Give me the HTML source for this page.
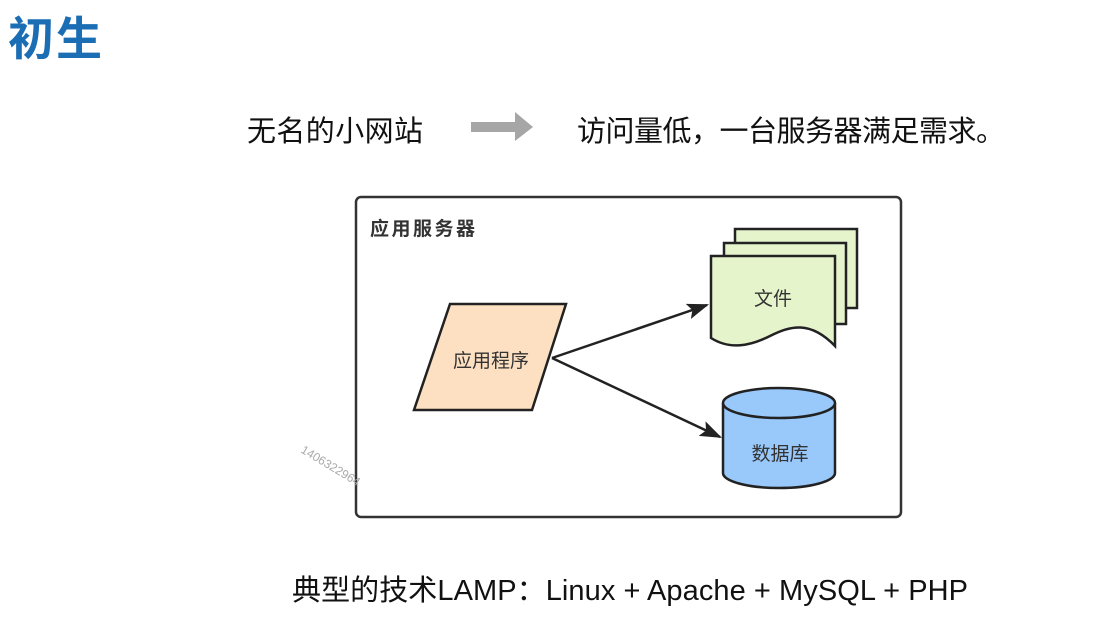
<!DOCTYPE html>
<html><head><meta charset="utf-8"><style>
html,body{margin:0;padding:0;background:#fff;width:1098px;height:632px;overflow:hidden}
text{font-family:"Liberation Sans","Noto Sans CJK SC",sans-serif}
</style></head><body>
<svg width="1098" height="632" viewBox="0 0 1098 632" xmlns="http://www.w3.org/2000/svg">
<defs>
<marker id="a2" viewBox="0 0 10 10" markerWidth="22" markerHeight="16" refX="9" refY="5" orient="auto" markerUnits="userSpaceOnUse" preserveAspectRatio="none"><path d="M0,0 L10,5 L0,10 L2,5 z" fill="#222"/></marker></defs>
<text x="8" y="55" font-size="46" font-weight="bold" fill="#1b6db4" textLength="94" font-family="Noto Sans CJK SC">初生</text>
<text x="247" y="141" font-size="29" fill="#111" textLength="176">无名的小网站</text>
<polygon points="471,122 515,122 515,112 533,127 515,141 515,132 471,132" fill="#a6a6a6"/>
<text x="577" y="141" font-size="29" fill="#111" textLength="428">访问量低，一台服务器满足需求。</text>
<rect x="356" y="197" width="545" height="320" rx="5" fill="#fff" stroke="#333" stroke-width="2.5"/>
<text x="370" y="235" font-size="19" font-weight="bold" fill="#333" textLength="105">应用服务器</text>
<polygon points="450,304 566,304 532,410 414,410" fill="#fde0c2" stroke="#222" stroke-width="2.5"/>
<text x="491" y="367" font-size="19" fill="#333" text-anchor="middle">应用程序</text>
<line x1="552" y1="358" x2="707" y2="305" stroke="#222" stroke-width="2.5" marker-end="url(#a2)"/>
<line x1="552" y1="358" x2="720" y2="437" stroke="#222" stroke-width="2.5" marker-end="url(#a2)"/>
<path d="M735,229 H857 V308 H735 Z" fill="#e6f4cc" stroke="#222" stroke-width="2.5"/>
<path d="M724,243 H846 V324 H724 Z" fill="#e6f4cc" stroke="#222" stroke-width="2.5"/>
<path d="M711,256 H835 V346 C810,320 790,326 770,336 C750,346 730,350 711,338 Z" fill="#e6f4cc" stroke="#222" stroke-width="2.5"/>
<text x="773" y="305" font-size="19" fill="#333" text-anchor="middle">文件</text>
<path d="M723,403 V473 A56,15 0 0 0 835,473 V403" fill="#99c8fb" stroke="#222" stroke-width="2.5"/>
<ellipse cx="779" cy="403" rx="56" ry="15" fill="#99c8fb" stroke="#222" stroke-width="2.5"/>
<text x="780" y="460" font-size="19" fill="#333" text-anchor="middle">数据库</text>
<text x="300" y="452" font-size="12" fill="#aaa" transform="rotate(31 300 452)">1406322964</text>
<text x="292" y="600" font-size="29" fill="#111" textLength="676">典型的技术LAMP：Linux + Apache + MySQL + PHP</text>
</svg>
</body></html>
